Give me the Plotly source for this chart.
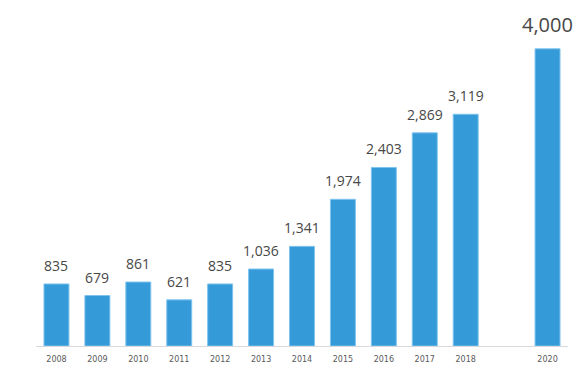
import plotly.graph_objects as go

years = [2008, 2009, 2010, 2011, 2012, 2013, 2014, 2015, 2016, 2017, 2018, 2020]
values = [835, 679, 861, 621, 835, 1036, 1341, 1974, 2403, 2869, 3119, 4000]
tick_labels = [str(y) for y in years]
label_sizes = [14] * 11 + [20]

fig = go.Figure(go.Bar(
    x=years, y=values,
    width=0.61,
    marker=dict(color="#359AD8", line=dict(color="#7FC3EE", width=1)),
    hoverinfo="skip",
))

for x, v, s in zip(years, values, label_sizes):
    fig.add_annotation(
        x=x, y=v, text=f"{v:,}", showarrow=False,
        yanchor="bottom", yshift=7 if s < 16 else 9,
        font=dict(size=s, color="#474747", family="Open Sans"),
    )

fig.update_layout(
    width=580, height=371,
    margin=dict(l=36, r=12, t=0, b=25),
    plot_bgcolor="white", paper_bgcolor="white",
    showlegend=False,
    xaxis=dict(range=[2007.5, 2020.5], tickvals=years, ticktext=tick_labels,
               tickfont=dict(size=8, color="#595959", family="DejaVu Sans"),
               ticklabelstandoff=5,
               showline=True, linecolor="#D9D9D9", linewidth=1, showgrid=False,
               ticks="", zeroline=False, fixedrange=True),
    yaxis=dict(range=[0, 4657], visible=False, showgrid=False, zeroline=False,
               fixedrange=True),
)

fig.write_html("out.html", config={"displayModeBar": False, "staticPlot": True},
               post_script="document.body.style.margin='0';document.body.style.overflow='hidden';")
